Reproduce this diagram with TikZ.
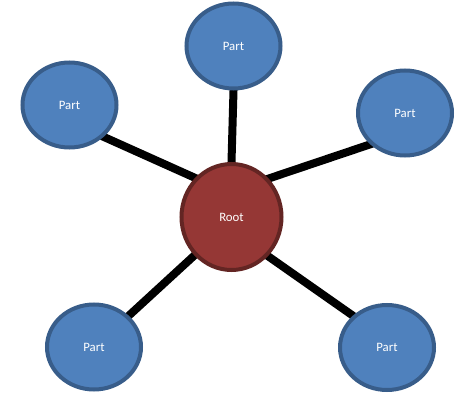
\documentclass[tikz,border=0pt]{standalone}
\usepackage{fontspec}
\setmainfont{Carlito}
\usetikzlibrary{shapes.geometric,backgrounds}
\definecolor{partfill}{HTML}{4F81BD}
\definecolor{partdraw}{HTML}{385D8A}
\definecolor{rootfill}{HTML}{953735}
\definecolor{rootdraw}{HTML}{632523}
\begin{document}
\begin{tikzpicture}[x=1pt,y=-1pt,
  partnode/.style={ellipse, fill=partfill, draw=partdraw, line width=4pt, minimum width=94pt, minimum height=85pt, inner sep=0pt, text=white, font=\fontsize{12.8}{14}\selectfont},
  rootnode/.style={ellipse, fill=rootfill, draw=rootdraw, line width=4pt, minimum width=100pt, minimum height=106pt, inner sep=0pt, text=white, font=\fontsize{12.8}{14}\selectfont},
  link/.style={line width=8pt, black, shorten <=-5pt, shorten >=-5pt}]
\useasboundingbox (0,0) rectangle (458,393);
\node[rootnode] (root) at (231.5,217) {Root};
\node[partnode] (top) at (233.5,46) {Part};
\node[partnode] (left) at (69.5,105) {Part};
\node[partnode] (right) at (405,113) {Part};
\node[partnode] (bl) at (94,347) {Part};
\node[partnode] (br) at (387,347.5) {Part};
\begin{scope}[on background layer]
\draw[link] (root.north) -- (top.south);
\draw[link] (root.133.4) -- (left.317.1);
\draw[link] (root.46.6) -- (right.222.9);
\draw[link] (root.226.6) -- (bl.42.9);
\draw[link] (root.313.4) -- (br.137.1);
\end{scope}
\end{tikzpicture}
\end{document}
